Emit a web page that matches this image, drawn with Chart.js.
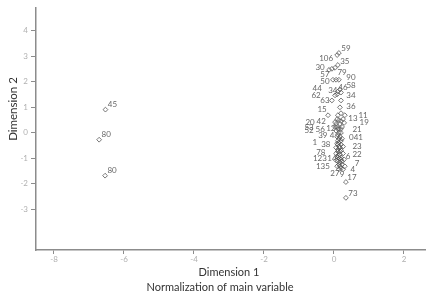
<!DOCTYPE html>
<html>
<head>
  <title>Dimension plot</title>
  <script src="https://cdn.jsdelivr.net/npm/chart.js"></script>
  <style>
    html, body { margin: 0; padding: 0; background: #fff; }
    canvas { display: block; }
  </style>
</head>
<body>
  <canvas id="plot" width="433" height="295"></canvas>

  <script>
    const dim1 = [-6.53, -6.71, -6.54,
      0.14, 0.09, 0.11, -0.14, -0.06, 0.03, -0.03, 0.14, 0.06, 0.09, 0.03, 0.11, 0.17, 0.2, -0.06, 0.17, -0.17,
      0.26, 0.2, 0.29, 0.23, 0.03, 0.09, 0.03, 0.09, 0.06, 0.11, 0.11, 0.17, 0.23, 0.11, 0.11, 0.26, 0.11, 0.26,
      0.11, 0.14, 0.2, 0.29, 0.14, 0.31, 0.14, 0.2, 0.34, 0.34,
      0.2, 0.11, 0.2, 0.31, 0.17, 0.06, 0.14, 0.14, 0.2, 0.09, 0.2, 0.14, 0.2, 0.06, 0.17, 0.11, 0.2, 0.06, 0.17, 0.11, 0.06, 0.23, 0.17, 0.09, 0.23, 0.26,
      0.14, 0.09, 0.17, 0.09, 0.2, 0.11, 0.17, 0.14, 0.2, 0.14];
    const dim2 = [0.91, -0.27, -1.68,
      3.13, 3.05, 2.66, 2.47, 2.51, 2.55, 2.08, 2.08, 2.08, 1.51, 1.47, 1.62, 1.7, 1.58, 1.27, 1.0, 0.69,
      0.54, 0.46, 0.39, 0.23, 0.42, 0.54, 0.23, 0.23, 0.08, 0.15, -0.08, -0.15, -0.23, -0.31, -0.46, -0.54, -0.73, -0.81,
      -0.97, -1.0, -0.97, -1.04, -1.24, -1.31, -1.43, -1.39, -1.93, -2.55,
      1.27, 0.69, 0.77, 0.69, 0.35, 0.35, 0.5, 0, 0, -0.15, -0.31, -0.39, -0.46, -0.58, -0.58, -0.66, -0.69, -0.81, -0.85, -0.89, -1.08, -1.12, -1.16, -1.31, -1.24, -1.43,
      -0.23, -0.42, -0.73, -0.93, -1.04, -1.12, -1.31, 0.15, 0.15, -0.54];
    const caseLabels = ["45", "80", "80",
      "59", "106", "35", "30", "57", "79", "50", "90", "58", "44", "62", "34", "46", "34", "63", "36", "15",
      "11", "13", "19", "21", "20", "42", "53", "56", "52", "12", "39", "4", "041", "1", "38", "23", "78", "22",
      "123", "14", "6", "7", "135", "4", "27", "9", "17", "73"];
    const xTickValues = [-8, -6, -4, -2, 0, 2];
    const yTickValues = [-3, -2, -1, 0, 1, 2, 3, 4];

    // pixel nudges for the point labels, same order as caseLabels
    const labelNudge = [[7,-5],[7,-5],[7,-5],
      [7,-5],[-11,3],[7,-4],[-9,-2],[-7,6],[7,5],[-8,2],[12,-2],[15,6],[-20,-6],[-19,0],[-5,-1],[3,-2],[10,3],[-7,0],[11,-1],[-6,-6],
      [20,-4],[12,-3],[20,0],[15,2],[-25,0],[-16,2],[-26,0],[-17,2],[-27,0],[-7,-1],[-15,1],[-8,-1],[14,-1],[-23,2],[-12,0],[14,0],[-17,1],[14,1],
      [-18,1],[-7,0],[7,-1],[13,4],[-16,2],[8,3],[-4,4],[1,6],[6,-5],[7,-4]];

    const axisGrey = "#8c8c8c";
    const tickGrey = "#b0b0b0";
    const fontName = "Lato, 'Open Sans', sans-serif";

    const pointText = {
      id: "pointText",
      afterDatasetsDraw(chart) {
        const ctx = chart.ctx;
        const xs = chart.scales.x, ys = chart.scales.y;
        ctx.save();
        ctx.font = "8px " + fontName;
        ctx.fillStyle = "#666";
        ctx.textAlign = "center";
        ctx.textBaseline = "middle";
        caseLabels.forEach((txt, i) => {
          ctx.fillText(txt, xs.getPixelForValue(dim1[i]) + labelNudge[i][0], ys.getPixelForValue(dim2[i]) + labelNudge[i][1]);
        });
        // the axis titles are off centre in the original, so place them by hand
        ctx.font = "11px " + fontName;
        ctx.fillStyle = "#333";
        ctx.fillText("Dimension 1", 229, 272);
        ctx.fillText("Normalization of main variable", 220, 287);
        ctx.translate(13, 109);
        ctx.rotate(-Math.PI / 2);
        ctx.font = "11.5px " + fontName;
        ctx.fillText("Dimension 2", 0, 0);
        ctx.restore();
      }
    };

    new Chart(document.getElementById("plot"), {
      type: "scatter",
      data: {
        datasets: [{
          data: dim1.map((v, i) => ({ x: v, y: dim2[i] })),
          pointStyle: "rectRot",
          pointRadius: 2.4,
          pointBorderWidth: 0.8,
          pointBorderColor: "#555",
          pointBackgroundColor: "rgba(255,255,255,0)"
        }]
      },
      options: {
        responsive: false,
        animation: false,
        layout: { padding: { top: 4, right: 8, left: 0, bottom: 1 } },
        plugins: { legend: { display: false }, tooltip: { enabled: false } },
        scales: {
          x: {
            type: "linear",
            min: -8.514,
            max: 2.6,
            afterBuildTicks: s => { s.ticks = xTickValues.map(v => ({ value: v })); },
            afterFit: s => { s.height = 44; },
            border: { color: axisGrey, width: 1.5 },
            grid: { drawOnChartArea: false, color: axisGrey, tickLength: 4 },
            ticks: { color: tickGrey, font: { size: 8, family: fontName }, padding: 1, maxRotation: 0 }
          },
          y: {
            type: "linear",
            min: -4.595,
            max: 4.903,
            afterBuildTicks: s => { s.ticks = yTickValues.map(v => ({ value: v })); },
            afterFit: s => { s.width = 36; },
            border: { color: axisGrey, width: 1.5 },
            grid: { drawOnChartArea: false, color: axisGrey, tickLength: 5 },
            ticks: { color: tickGrey, font: { size: 8, family: fontName }, padding: 3 }
          }
        }
      },
      plugins: [pointText]
    });
  </script>
</body>
</html>
